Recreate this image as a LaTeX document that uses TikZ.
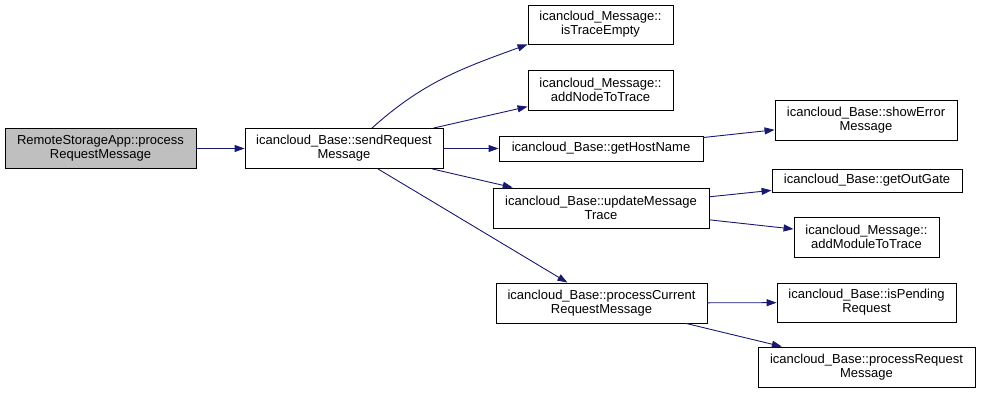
\documentclass[tikz,border=0pt]{standalone}
\usepackage{fontspec}
\setmainfont{Liberation Sans}
\usetikzlibrary{arrows.meta}
\definecolor{edgeblue}{HTML}{191970}
\tikzset{
  fn/.style={draw,rectangle,fill=white,inner sep=0pt,align=center,line width=0.9pt,font=\fontsize{13}{14}\selectfont},
  fn-root/.style={fn,fill=black!25},
  call/.style={-{Triangle[length=10pt,width=7pt]},line width=0.9pt,edgeblue},
}

\begin{document}
\begin{tikzpicture}[x=1pt,y=-1pt]

  \useasboundingbox (0,0) rectangle (981,393);

  % caller
  \node[fn-root,minimum width=191,minimum height=40] (root) at (100.5,148.5) {RemoteStorageApp::process\\RequestMessage};

  % first level
  \node[fn,minimum width=198,minimum height=40] (send) at (344,148.5) {icancloud\_Base::sendRequest\\Message};

  % second level
  \node[fn,minimum width=145,minimum height=39] (empty)   at (600.5,24.5) {icancloud\_Message::\\isTraceEmpty};
  \node[fn,minimum width=145,minimum height=40] (addnode) at (600.5,90)   {icancloud\_Message::\\addNodeToTrace};
  \node[fn,minimum width=204,minimum height=25] (host)    at (601,148.5)  {icancloud\_Base::getHostName};
  \node[fn,minimum width=216,minimum height=40] (update)  at (601,208)    {icancloud\_Base::updateMessage\\Trace};
  \node[fn,minimum width=211,minimum height=40] (current) at (601.5,303)  {icancloud\_Base::processCurrent\\RequestMessage};

  % third level
  \node[fn,minimum width=182,minimum height=40] (showerr) at (866,120)    {icancloud\_Base::showError\\Message};
  \node[fn,minimum width=190,minimum height=23] (outgate) at (867,180.5)  {icancloud\_Base::getOutGate};
  \node[fn,minimum width=145,minimum height=40] (addmod)  at (866.5,237)  {icancloud\_Message::\\addModuleToTrace};
  \node[fn,minimum width=179,minimum height=39] (pending) at (866.5,302.5) {icancloud\_Base::isPending\\Request};
  \node[fn,minimum width=217,minimum height=40] (procreq) at (866.5,367)  {icancloud\_Base::processRequest\\Message};

  \draw[call] (root) -- (send);
  \draw[call] ([xshift=28pt]send.north) to[out=42,in=200] (empty.south west);
  \draw[call] (send) -- (addnode);
  \draw[call] (send) -- (host);
  \draw[call] (send) -- (update);
  \draw[call] (send) -- (current);
  \draw[call] (host) -- (showerr);
  \draw[call] (update) -- (outgate);
  \draw[call] (update) -- (addmod);
  \draw[call] (current) -- (pending);
  \draw[call] (current) -- (procreq);

\end{tikzpicture}
\end{document}
